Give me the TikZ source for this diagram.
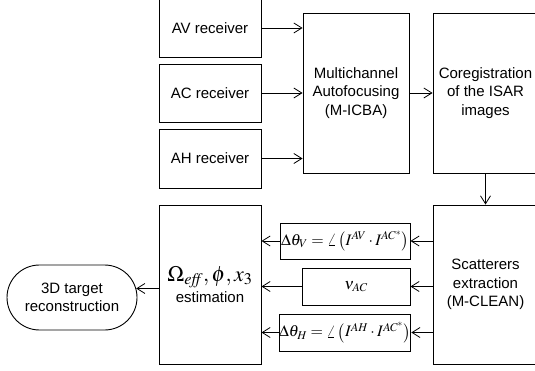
\documentclass[tikz,border=0pt]{standalone}
\usepackage{mathptmx}
\usepackage[no-math]{fontspec}
\setmainfont{Liberation Sans}
\usetikzlibrary{arrows.meta,shapes.misc}
\begin{document}
\begin{tikzpicture}[x=1pt,y=-1pt,
  font=\fontsize{15}{18.5}\selectfont,
  box/.style={draw, line width=0.9pt, align=center, inner sep=0pt},
  arr/.style={-{Straight Barb[length=8pt,width=10pt]}, line width=0.8pt}]
\useasboundingbox (0,0) rectangle (535,371);
\clip (0,0) rectangle (535,371);
% receivers
\node[box, minimum width=102pt, minimum height=58pt] (av) at (210,28) {AV receiver};
\node[box, minimum width=102pt, minimum height=58pt] (ac) at (210,93) {AC receiver};
\node[box, minimum width=102pt, minimum height=59pt] (ah) at (210,158.5) {AH receiver};
% main chain
\node[box, minimum width=106pt, minimum height=160pt] (mc) at (356,93) {Multichannel\\Autofocusing\\(M-ICBA)};
\node[box, minimum width=105pt, minimum height=160pt] (co) at (485.5,93) {Coregistration\\of the ISAR\\images};
\node[box, minimum width=105pt, minimum height=159pt] (sc) at (485.5,284.5) {Scatterers\\extraction\\(M-CLEAN)};
% small boxes
\node[box, minimum width=130pt, minimum height=36pt] (dv) at (345,241)
  {\fontsize{16}{18}\selectfont$\Delta\theta_V = \angle\left(I^{AV}\cdot I^{AC^*}\right)$};
\node[box, minimum width=108pt, minimum height=37pt] (nu) at (356,286.5)
  {\fontsize{16}{18}\selectfont$\nu_{AC}$};
\node[box, minimum width=130pt, minimum height=37pt] (dh) at (345,332.5)
  {\fontsize{16}{18}\selectfont$\Delta\theta_H = \angle\left(I^{AH}\cdot I^{AC^*}\right)$};
% estimation
\node[box, minimum width=102pt, minimum height=159pt] (es) at (210,284.5)
  {{\fontsize{22}{24}\selectfont$\Omega_{\mathit{eff}},\phi,x_3$}\\[3pt]estimation};
% terminal
\node[draw, line width=0.9pt, rounded rectangle, minimum width=130pt, minimum height=65pt,
  align=center, inner sep=0pt] (tr) at (72,297.5) {3D target\\reconstruction};
% connectors
\draw[arr] (av.east) -- (mc.west |- av.east);
\draw[arr] (ac.east) -- (mc.west |- ac.east);
\draw[arr] (ah.east) -- (mc.west |- ah.east);
\draw[arr] (mc.east) -- (co.west);
\draw[arr] (co.south) -- (sc.north);
\draw[arr] (sc.west |- dv.east) -- (dv.east);
\draw[arr] (sc.west |- nu.east) -- (nu.east);
\draw[arr] (sc.west |- dh.east) -- (dh.east);
\draw[arr] (dv.west) -- (es.east |- dv.west);
\draw[arr] (nu.west) -- (es.east |- nu.west);
\draw[arr] (dh.west) -- (es.east |- dh.west);
\draw[arr] (es.west |- tr.8.5) -- (tr.8.5);
\end{tikzpicture}
\end{document}
